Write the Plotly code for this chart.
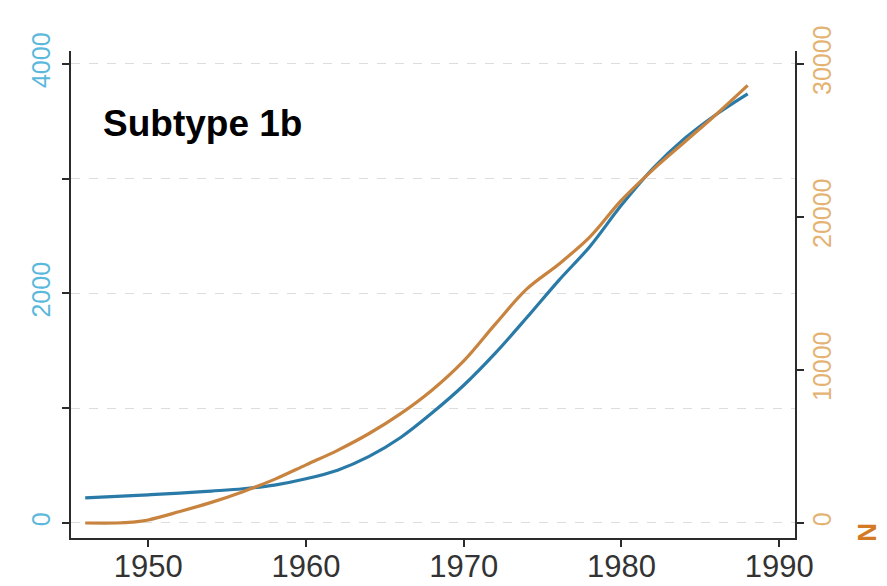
import plotly.graph_objects as go

years_blue = [1946, 1948, 1950, 1952, 1954, 1956, 1958, 1960, 1962, 1964, 1966,
              1968, 1970, 1972, 1974, 1976, 1978, 1980, 1982, 1984, 1986, 1988]
blue_vals = [218, 232, 245, 260, 278, 298, 330, 385, 460, 580, 745,
             960, 1200, 1480, 1790, 2110, 2410, 2770, 3090, 3350, 3560, 3740]

years_orange = [1946, 1948, 1949, 1950, 1952, 1954, 1956, 1958, 1960, 1962, 1964, 1966,
                1968, 1970, 1972, 1974, 1976, 1978, 1980, 1982, 1984, 1986, 1988]
orange_vals = [0, 0, 60, 200, 750, 1350, 2050, 2850, 3800, 4750, 5850, 7150,
               8700, 10600, 13000, 15300, 16900, 18700, 21100, 23100, 24900, 26700, 28600]

left_ticks = [0, 1000, 2000, 3000, 4000]
left_text = ["0", "", "2000", "", "4000"]
right_ticks = [0, 10000, 20000, 30000]
right_text = ["0", "10000", "20000", "30000"]
x_ticks = [1950, 1960, 1970, 1980, 1990]

FONT = "Arial, Liberation Sans, sans-serif"
AX = "#2b2b2b"

fig = go.Figure()
fig.add_trace(go.Scatter(x=years_blue, y=blue_vals, mode="lines",
                         line=dict(color="#2a7aa8", width=3.2, shape="spline", smoothing=1.0),
                         yaxis="y", showlegend=False))
fig.add_trace(go.Scatter(x=years_orange, y=orange_vals, mode="lines",
                         line=dict(color="#c8843f", width=3.2, shape="spline", smoothing=1.0),
                         yaxis="y2", showlegend=False))

fig.update_layout(
    width=879, height=578,
    margin=dict(l=63, r=92, t=43, b=48, autoexpand=False),
    paper_bgcolor="white", plot_bgcolor="white",
    font=dict(family=FONT),
    xaxis=dict(range=[1945.1, 1991.0], tickvals=x_ticks, automargin=False,
               showline=True, linecolor=AX, linewidth=2,
               ticks="outside", ticklen=7, tickwidth=2, tickcolor=AX,
               tickfont=dict(size=31, color="#333333"),
               showgrid=False, zeroline=False, ticklabelstandoff=-7),
    yaxis=dict(range=[-131, 4113], tickvals=left_ticks, ticktext=left_text, automargin=False,
               showline=True, linecolor=AX, linewidth=2,
               ticks="outside", ticklen=7, tickwidth=2, tickcolor=AX,
               tickangle=-90, tickfont=dict(size=25, color="#5ab8dc"),
               showgrid=True, gridcolor="#dddddd", gridwidth=1, griddash="dash",
               zeroline=False, ticklabelstandoff=2),
    yaxis2=dict(range=[-980, 30850], tickvals=right_ticks, ticktext=right_text, automargin=False,
                overlaying="y", side="right",
                showline=True, linecolor=AX, linewidth=2,
                ticks="outside", ticklen=7, tickwidth=2, tickcolor=AX,
                tickangle=-90, tickfont=dict(size=25, color="#e4b272"),
                showgrid=False, zeroline=False, ticklabelstandoff=-3),
)

fig.add_annotation(x=1947.0, y=3480, xref="x", yref="y", text="<b>Subtype 1b</b>",
                   showarrow=False, xanchor="left", yanchor="middle",
                   font=dict(size=37, color="black", family=FONT))
fig.add_annotation(x=1.099, y=0.012, xref="paper", yref="paper", text="<b>N</b>",
                   showarrow=False, textangle=-90, xanchor="center", yanchor="middle",
                   font=dict(size=26, color="#d47a24", family=FONT))

fig.write_html("out.html")
